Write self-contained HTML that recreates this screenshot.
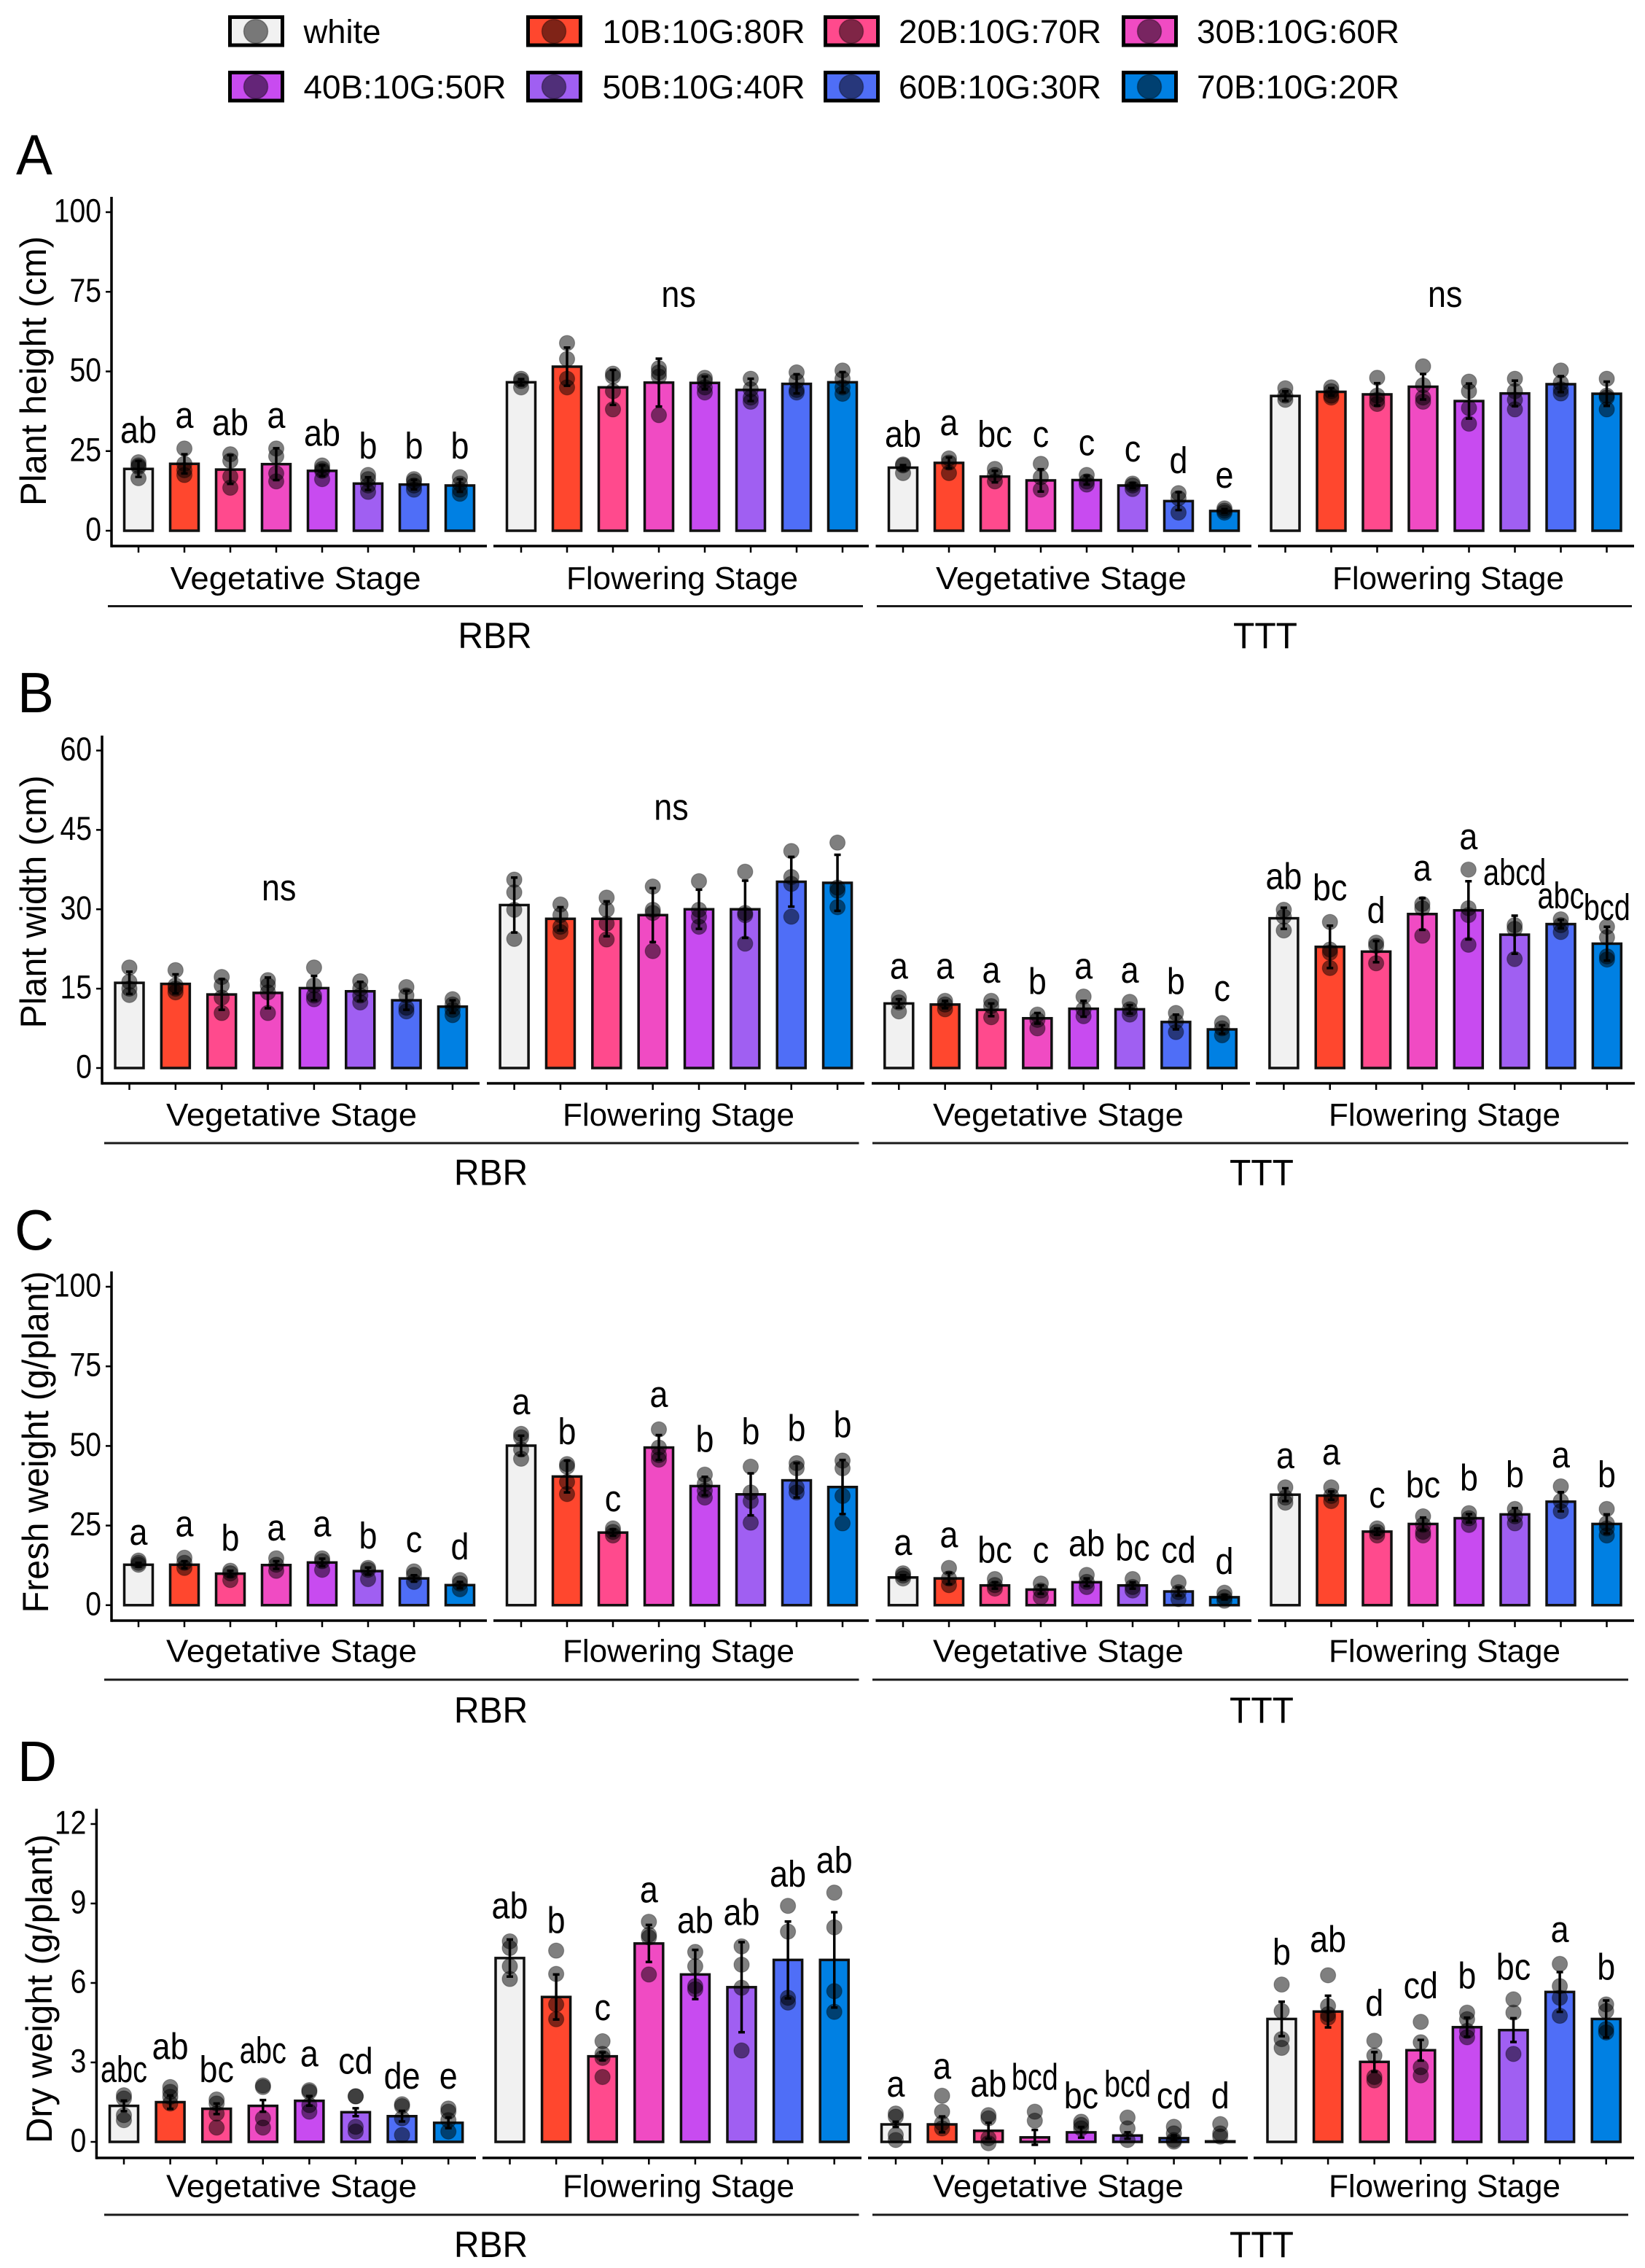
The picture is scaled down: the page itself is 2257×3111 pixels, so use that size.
<!DOCTYPE html>
<html lang="en">
<head>
<meta charset="utf-8">
<title>Plant growth bar charts by light treatment</title>
<style>
html,body{margin:0;padding:0;background:#fff;}
svg{display:block;}
text{font-family:"Liberation Sans",Arial,sans-serif;fill:#000;}
</style>
</head>
<body>
<svg id="chart" xmlns="http://www.w3.org/2000/svg" width="2257" height="3111" viewBox="0 0 2257 3111"></svg>
<script>
const treatments = ['white','10B:10G:80R','20B:10G:70R','30B:10G:60R','40B:10G:50R','50B:10G:40R','60B:10G:30R','70B:10G:20R'];
const stages = ['Vegetative Stage','Flowering Stage'];
const cultivars = ['RBR','TTT'];

const panelATicks = [0,25,50,75,100];
const panelAMeans = [
 [19.4,21,19.2,20.9,18.8,14.8,14.5,14.2],
 [46.6,51.5,45,46.5,46.4,44.2,46.1,46.6],
 [19.8,21.3,17,15.8,15.9,14.2,9.3,6.2],
 [42.3,43.6,42.8,45.2,40.7,43.1,46,43]];
const panelAErrors = [
 [2.5,3,4.5,5,1.7,2,1.5,2],
 [1,6,5.5,7.5,2,3.5,3,3.2],
 [0.8,1.7,1.8,3.5,1.4,0.8,2.8,0.6],
 [1.5,1.2,3.5,4,5.5,4,2.5,3.8]];
const panelAPoints = [
 [[21.5,20.5,20,16.5],[25.8,21,19,17.5],[24,22,17,13.5],[25.8,23.4,18,15.5],[20.5,19.4,18.8,16.2],[17.5,16.2,14.2,12.2],[16.2,15.5,14.2,12.9],[16.8,14.8,12.9,11.6]],
 [[47.7,47,45],[58.9,53.9,47.7,45],[49.3,48.4,43.8,38.1],[51,49.7,48.4,36.3],[48,47,45,43.4],[47.7,44.4,41.8,40.5],[49.7,47,44.2,43.4],[50.3,47.7,45,43]],
 [[20.8,20.5,18.1],[22.7,21.4,18.1],[19.4,17.5,15.5],[21,16.8,12.9],[17.5,15.5,14.5],[14.8,14.2,13.1],[11.8,10.2,5.7],[7,6.3,5.7]],
 [[44.7,42.4,41.1],[45,43.8,42.4,41.8],[48,42.4,41.1,39.8],[51.6,45.7,41.8,40.5],[46.8,43.8,38.5,33.6],[47.7,43.8,41.1,38.1],[50.3,46.4,44.4,43.1],[47.7,42.4,41.8,38.1]]];
const panelALetters = [
 ['ab','a','ab','a','ab','b','b','b'],
 ['ns'],
 ['ab','a','bc','c','c','c','d','e'],
 ['ns']];
const panelALetterLevels = [
 [27.6,32.3,30,32.3,26.7,22.7,22.7,22.7],
 [70.3],
 [26.3,30,26.3,26.3,23.7,21.7,18.1,13.5],
 [70.3]];

const panelBTicks = [0,15,30,45,60];
const panelBMeans = [
 [16.1,15.9,13.9,14.2,15.1,14.5,12.8,11.6],
 [30.8,28.2,28.2,28.9,30,30,35.2,35],
 [12.2,12,11,9.4,11.2,11.1,8.7,7.3],
 [28.3,22.9,22,29.1,29.8,25.2,27.2,23.5]];
const panelBErrors = [
 [2.1,1.8,2.9,2.9,2.3,1.8,1.8,1.2],
 [5.2,2.2,3.3,5.1,3.7,5.4,4.7,5.3],
 [0.8,0.7,1.2,1,1.5,0.8,1.4,0.8],
 [2,4,2,3,5.5,3.6,0.8,3.2]];
const panelBPoints = [
 [[19,16.3,15,13.8],[18.5,15.6,15,14.3],[17.2,15.6,13.3,10.4],[16.6,15.6,14.3,10.4],[19,15.6,13.7,13],[16.4,15,13.7,12.4],[15.3,13.7,11.4,10.7],[13,12,11,10]],
 [[35.6,33.2,29.9,24.4],[30.9,28.9,26.7,25.7],[32.2,29.9,27.3,24.3],[34.3,29.9,29.3,22.1],[35.3,29.9,28.6,26.7],[37.1,29.3,28.9,23.5],[41,36.1,34.8,28.6],[42.6,34.1,33.5,30.4]],
 [[13.3,12.4,10.7],[12.7,12,11.1],[12.7,11.7,9.6],[10.1,9.1,7.5],[13.5,11.1,9.8],[12.5,11.1,10.1],[10.4,8.8,6.8],[8.5,7.5,6.2]],
 [[29.9,28.6,26],[27.6,22.4,21.8,18.9],[23.7,23.1,19.8],[31,30.2,25],[37.5,30.2,28.9,23.3],[27,26.3,20.6],[28.1,27,25.7],[26.7,24.7,21.1,20.5]]];
const panelBLetters = [
 ['ns'],
 ['ns'],
 ['a','a','a','b','a','a','b','c'],
 ['ab','bc','d','a','a','abcd','abc','bcd']];
const panelBLetterLevels = [
 [31.7],
 [46.9],
 [16.9,16.9,16.1,14,16.9,16.1,14,12.7],
 [33.8,31.7,27.4,35.4,41.3,34.6,30.2,28]];

const panelCTicks = [0,25,50,75,100];
const panelCMeans = [
 [12.7,12.7,9.9,12.6,13.4,10.7,8.4,6.3],
 [50.1,40.4,22.8,49.5,37.4,34.8,39.2,37.1],
 [8.7,8.4,6.2,4.9,7.2,6.2,4.3,2.5],
 [34.7,34.4,23.1,25.5,27.3,28.5,32.5,25.5]];
const panelCErrors = [
 [0.6,1.1,0.9,1.2,1.2,1.1,1,1],
 [3.1,5,1,3.9,2.9,6.6,5.4,8.5],
 [0.7,1.8,1,1.3,1.2,1,1.3,0.7],
 [2,1.3,1,2,1.3,2,3,3]];
const panelCPoints = [
 [[14,13.3,12.7],[14.9,13.3,11.7],[10.8,10,7.9],[14.7,12.7,10.8],[14.7,13.8,11.1],[11.7,11.1,8.2],[10.6,9.5,7.3],[7.9,6.8,5]],
 [[53.8,52.7,48.9,46],[44.3,43.5,38.7,34.9],[24.1,23,21.9],[55.2,49.5,47.1,45.7],[41,38.1,36,33.8],[43.5,35.4,32.7,25.9],[44.6,43,37,35.4],[45.4,43,34.3,25.7]],
 [[10,9.3,8.4],[11.7,8.4,6.3],[8.2,6.3,5.2],[6.8,4.6,2.5],[9.5,7.3,5.7],[8.2,5.7,4.6],[7.1,4.1,1.9],[3.9,2.5,1.4]],
 [[37,33.8,32.2],[37,34.3,32.7],[24.1,23,21.9],[27.9,25.2,23,21.9],[28.9,27.3,25.2],[30.2,27.9,25.7],[37.3,32.7,29.5],[30.2,25.7,24.1,21.9]]];
const panelCLetters = [
 ['a','a','b','a','a','b','c','d'],
 ['a','b','c','a','b','b','b','b'],
 ['a','a','bc','c','ab','bc','cd','d'],
 ['a','a','c','bc','b','b','a','b']];
const panelCLetterLevels = [
 [19,21.6,17.1,20.3,21.6,17.8,16.7,14.4],
 [59.9,50.5,29.5,62.2,48.1,50.5,51.6,52.7],
 [15.8,18.1,13.3,13.3,15.4,14,13.3,9.8],
 [43,44.1,30.6,33.8,36,37,43.2,37]];

const panelDTicks = [0,3,6,9,12];
const panelDMeans = [
 [1.36,1.5,1.25,1.36,1.55,1.12,0.97,0.72],
 [6.94,5.47,3.23,7.49,6.32,5.84,6.87,6.87],
 [0.66,0.66,0.42,0.17,0.36,0.24,0.14,0.02],
 [4.64,4.92,3.02,3.46,4.33,4.22,5.66,4.64]];
const panelDErrors = [
 [0.2,0.25,0.2,0.22,0.18,0.15,0.2,0.2],
 [0.7,0.85,0.15,0.7,0.93,1.7,1.45,1.8],
 [0.1,0.3,0.3,0.28,0.2,0.12,0.1,0],
 [0.65,0.6,0.37,0.39,0.36,0.45,0.75,0.7]];
const panelDPoints = [
 [[1.76,1.64,1.01,0.82],[2.07,1.89,1.7,1.45],[1.6,1.45,1.07,0.54],[2.13,2.07,0.89,0.54],[1.95,1.89,1.39,1.14],[1.72,1.72,0.57,0.39],[1.42,1.35,0.89,0.26],[1.26,1.14,0.82,0.39]],
 [[7.57,7.32,6.63,6.15],[7.22,6.34,5.19,4.63],[3.8,3.32,3.17,2.45],[8.31,7.82,7.72,6.32],[7.17,6.63,5.88,5.76],[7.38,6.69,5.82,3.45],[8.91,7.94,5.44,5.26],[9.41,8.1,5.69,4.91]],
 [[1.07,0.95,0.26,0.07],[1.74,1.14,0.7,0.51],[1.01,0.89,0.14,-0.05],[1.14,0.8],[0.76,0.64,0.51],[0.92,0.51,0.07],[0.57,0.32,0.07,0.01],[0.67,0.32,0.2]],
 [[5.94,4.94,3.88,3.55],[6.29,5.13,4.82,4.69],[3.82,3.26,2.45,2.32],[4.53,3.76,2.82,2.51],[4.88,4.63,4.19,3.95],[5.38,4.88,3.32],[6.72,5.88,5.44,4.76],[5.19,4.94,4.26,4.13]]];
const panelDLetters = [
 ['abc','ab','bc','abc','a','cd','de','e'],
 ['ab','b','c','a','ab','ab','ab','ab'],
 ['a','a','ab','bcd','bc','bcd','cd','d'],
 ['b','ab','d','cd','b','bc','a','b']];
const panelDLetterLevels = [
 [2.26,3.13,2.26,2.97,2.85,2.57,2.01,2.01],
 [8.44,7.88,4.59,9.04,7.88,8.19,9.63,10.16],
 [1.7,2.38,1.7,1.97,1.26,1.7,1.26,1.26],
 [6.69,7.17,4.76,5.42,5.79,6.13,7.54,6.13]];

const fillColors = ['#f1f1f1','#ff472e','#ff4a8d','#f04bc3','#c84bf0','#a05ff2','#4f6ef7','#0080e3'];

const layoutTop = {starts:[190,715,1239,1763.5],segs:[[153,668],[677,1192],[1201.5,1717],[1726,2242]]};

const panels = [
 {id:'a',letter:'A',lx:22,ly:239,title:'Plant height (cm)',tx:63,tc:509,tl:370,ticks:panelATicks,means:panelAMeans,errors:panelAErrors,points:panelAPoints,letters:panelALetters,levels:panelALetterLevels,nsAt:[0,3.43,0,3.48],
  axisX:153,zero:728,maxY:291,top:270,bottom:749,step:63,starts:layoutTop.starts,segs:layoutTop.segs,stageY:808,stripY:831.5,cultY:889,stageCx:[405.6,936,1456,1987],cultCx:[679,1736],strips:[[148,1184],[1203,2239]]},
 {id:'b',letter:'B',lx:24,ly:977,title:'Plant width (cm)',tx:63,tc:1237,tl:347,ticks:panelBTicks,means:panelBMeans,errors:panelBErrors,points:panelBPoints,letters:panelBLetters,levels:panelBLetterLevels,nsAt:[3.24,3.4,0,0],
  axisX:140,zero:1465,maxY:1029.5,top:1009,bottom:1486,step:63.35,starts:[177.5,705.6,1233.3,1761.4],segs:[[140,658],[668,1186],[1196,1715],[1723,2243]],stageY:1544,stripY:1568,cultY:1625.5,stageCx:[400,931,1452,1982],cultCx:[673.5,1731],strips:[[143,1178.5],[1197,2234]]},
 {id:'c',letter:'C',lx:20,ly:1714,title:'Fresh weight (g/plant)',tx:66,tc:1978,tl:469,ticks:panelCTicks,means:panelCMeans,errors:panelCErrors,points:panelCPoints,letters:panelCLetters,levels:panelCLetterLevels,nsAt:[0,0,0,0],
  axisX:153,zero:2201.8,maxY:1765,top:1744,bottom:2223,step:63,starts:layoutTop.starts,segs:layoutTop.segs,stageY:2279.6,stripY:2304,cultY:2363,stageCx:[400,931,1452,1982],cultCx:[673.5,1731],strips:[[143,1178.5],[1197,2234]]},
 {id:'d',letter:'D',lx:24,ly:2443,title:'Dry weight (g/plant)',tx:71,tc:2728,tl:424,ticks:panelDTicks,means:panelDMeans,errors:panelDErrors,points:panelDPoints,letters:panelDLetters,levels:panelDLetterLevels,nsAt:[0,0,0,0],
  axisX:132.4,zero:2938,maxY:2502,top:2481,bottom:2960,step:63.6,starts:[170,699.5,1229,1758.5],segs:[[132,653],[662,1182],[1191,1712],[1720,2242]],stageY:3013.5,stripY:3038,cultY:3096,stageCx:[400,931,1452,1982],cultCx:[673.5,1731],strips:[[143,1178.5],[1197,2234]]}
];

const NS = 'http://www.w3.org/2000/svg';
const root = document.getElementById('chart');
function make(tag, attrs, parent) {
  const n = document.createElementNS(NS, tag);
  for (const k in attrs) n.setAttribute(k, attrs[k]);
  (parent || root).appendChild(n);
  return n;
}
function label(str, attrs, parent) {
  const n = make('text', attrs, parent);
  n.textContent = str;
  return n;
}
function squeezed(x, y, sx) {
  return 'translate(' + x + ' ' + y + ') scale(' + sx + ' 1)';
}

/* legend */
const legendCols = [[313,416.5],[722,826.5],[1130,1233],[1539,1642]];
const legend = make('g', {});


treatments.forEach(function (name, i) {
  const col = legendCols[i % 4];
  const row = i < 4 ? 0 : 1;
  const cy = row === 0 ? 43 : 119;
  const box = make('rect', {x:col[0]+2.5, y:cy-19.5, width:72, height:38.5, fill:fillColors[i], stroke:'#000', 'stroke-width':5}, legend);
  
  
  const dot = make('circle', {cx:col[0]+38, cy:cy, r:16.5, fill:'rgba(0,0,0,0.5)', stroke:'rgba(0,0,0,0.35)', 'stroke-width':1.5}, legend);
  
  
  const t = label(name, {x:col[1], y:cy+16, 'font-size':45, textLength: i === 0 ? 106 : 278, lengthAdjust:'spacingAndGlyphs'}, legend);
  
  
});

/* panels */
panels.forEach(function (p) {
  const tickMax = p.ticks[p.ticks.length - 1];
  const yScale = function (v) { return p.zero - v * (p.zero - p.maxY) / tickMax; };
  const xScale = function (g, i) { return p.starts[g] + i * p.step; };

  const group = make('g', {});
  
  

  const tag = label(p.letter, {x:0, y:0, 'font-size':78, transform:squeezed(p.lx, p.ly, 0.96)}, group);
  
  

  const ytitle = label(p.title, {x:0, y:0, 'font-size':50, 'text-anchor':'middle', textLength:p.tl, lengthAdjust:'spacingAndGlyphs', transform:'translate(' + p.tx + ' ' + p.tc + ') rotate(-90)'}, group);
  
  

  const yline = make('line', {x1:p.axisX, x2:p.axisX, y1:p.top, y2:p.bottom + 1.7, stroke:'#000', 'stroke-width':3.5}, group);
  
  

  p.ticks.forEach(function (tv) {
    const ty = yScale(tv);
    const mark = make('line', {x1:p.axisX - 8, x2:p.axisX, y1:ty, y2:ty, stroke:'#000', 'stroke-width':2.5}, group);
    
    
    const lab = label(String(tv), {x:0, y:0, 'font-size':45, 'text-anchor':'end', transform:squeezed(p.axisX - 14, ty + 13.5, 0.87)}, group);
    
    
  });

  p.means.forEach(function (means, g) {
    const seg = p.segs[g];
    const xaxis = make('line', {x1:seg[0], x2:seg[1], y1:p.bottom, y2:p.bottom, stroke:'#000', 'stroke-width':3.5}, group);
    
    

    means.forEach(function (m, i) {
      const cx = xScale(g, i);
      const top = yScale(m);
      const bar = make('rect', {x:cx - 19.5, y:top, width:39, height:p.zero - top, fill:fillColors[i], stroke:'#111', 'stroke-width':3.5}, group);
      
      

      const tick = make('line', {x1:cx, x2:cx, y1:p.bottom, y2:p.bottom + 9, stroke:'#000', 'stroke-width':2.5}, group);
      
      

      p.points[g][i].forEach(function (v) {
        const dot = make('circle', {cx:cx, cy:yScale(v), r:10.5, fill:'rgba(0,0,0,0.5)', stroke:'rgba(0,0,0,0.3)', 'stroke-width':1.2}, group);
        
        
      });

      const err = p.errors[g][i];
      if (err > 0) {
        const hi = yScale(m + err);
        const lo = yScale(m - err);
        const stem = make('path', {d:'M' + (cx-4.5) + ' ' + hi + 'H' + (cx+4.5) + 'M' + cx + ' ' + hi + 'V' + lo + 'M' + (cx-4.5) + ' ' + lo + 'H' + (cx+4.5), fill:'none', stroke:'#000', 'stroke-width':3.5}, group);
        
        
      }
    });

    const names = p.letters[g];
    names.forEach(function (str, i) {
      const pos = str === 'ns' ? p.nsAt[g] : i;
      const sx = str.length > 2 ? 0.78 : 0.88;
      const lt = label(str, {x:0, y:0, 'font-size':51, 'text-anchor':'middle', transform:squeezed(xScale(g, pos), yScale(p.levels[g][i]), sx)}, group);
      
      
    });

    const stageLabel = label(stages[g % 2], {x:p.stageCx[g], y:p.stageY, 'font-size':44, 'text-anchor':'middle', textLength: g % 2 === 0 ? 344 : 318, lengthAdjust:'spacingAndGlyphs'}, group);
    
    
  });

  cultivars.forEach(function (name, c) {
    const strip = make('line', {x1:p.strips[c][0], x2:p.strips[c][1], y1:p.stripY, y2:p.stripY, stroke:'#1a1a1a', 'stroke-width':3}, group);
    
    
    const cl = label(name, {x:0, y:0, 'font-size':50, 'text-anchor':'middle', transform:squeezed(p.cultCx[c], p.cultY, 0.96)}, group);
    
    
  });
});
</script>
</body>
</html>
